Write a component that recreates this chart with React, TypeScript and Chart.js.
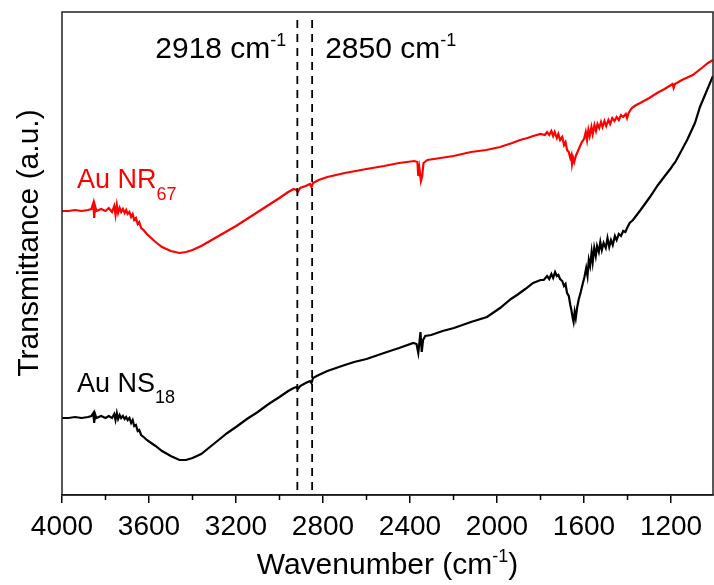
import React, { useEffect, useRef } from 'react';
import { Chart, registerables } from 'chart.js';

Chart.register(...registerables);

const FONT = '"Liberation Sans", Arial, Helvetica, sans-serif';

// Au NR67 (red) spectrum
const nrWavenumbers = [
  4000, 3970, 3940, 3910, 3880, 3865, 3856, 3852, 3848, 3842, 3820, 3800, 3785, 3770, 3760, 3754, 3748, 3742, 3735, 3728,
  3720, 3712, 3705, 3698, 3690, 3682, 3675, 3668, 3660, 3652, 3645, 3636, 3625, 3610, 3590, 3570, 3540, 3500, 3460, 3430,
  3400, 3360, 3320, 3280, 3240, 3200, 3150, 3100, 3050, 3000, 2960, 2935, 2922, 2916, 2905, 2880, 2860, 2853, 2846, 2820,
  2780, 2700, 2650, 2600, 2520, 2450, 2380, 2366, 2362, 2357, 2350, 2344, 2338, 2320, 2260, 2200, 2120, 2050, 1986, 1930,
  1894, 1860, 1834, 1800, 1780, 1770, 1760, 1750, 1742, 1735, 1725, 1718, 1710, 1700, 1692, 1685, 1678, 1670, 1663, 1658,
  1655, 1650, 1645, 1638, 1632, 1620, 1610, 1600, 1592, 1586, 1580, 1574, 1566, 1560, 1552, 1545, 1538, 1530, 1522, 1515,
  1506, 1498, 1488, 1480, 1470, 1460, 1450, 1440, 1430, 1420, 1408, 1402, 1395, 1380, 1360, 1342, 1300, 1264, 1230, 1200,
  1193, 1188, 1182, 1150, 1100, 1053, 1030, 1007,
];
const nrTransmittance = [
  284, 284, 285, 284, 285, 286, 292, 277, 289, 284, 286, 284, 287, 283, 289, 280, 290, 282, 287, 283,
  286, 282, 285, 281, 283, 278, 281, 275, 277, 271, 273, 267, 265, 261, 257, 253, 248, 244, 242, 243,
  245, 249, 254, 259, 264, 269, 276, 283, 290, 297, 303, 306, 305, 303, 307, 309, 311, 308, 312, 315,
  318, 322, 324, 326, 329, 332, 334, 333, 319, 327, 314, 319, 332, 335, 337, 339, 343, 345, 348, 352,
  355, 357, 359, 361, 360, 363, 360, 364, 359, 363, 357, 361, 355, 358, 350, 353, 345, 343, 337, 340,
  331, 337, 333, 339, 342, 348, 353, 356, 363, 355, 365, 359, 368, 361, 370, 364, 371, 367, 373, 368,
  374, 369, 375, 371, 377, 374, 378, 375, 380, 378, 381, 377, 382, 387, 390, 392, 397, 402, 406, 410,
  411, 407, 411, 415, 420, 428, 432, 435,
];

// Au NS18 (black) spectrum
const nsWavenumbers = [
  4000, 3970, 3940, 3910, 3880, 3865, 3856, 3852, 3848, 3842, 3820, 3800, 3785, 3770, 3760, 3754, 3748, 3742, 3735, 3728,
  3720, 3712, 3705, 3698, 3690, 3682, 3675, 3668, 3660, 3652, 3645, 3636, 3625, 3610, 3590, 3570, 3540, 3500, 3460, 3430,
  3400, 3360, 3320, 3280, 3240, 3200, 3150, 3100, 3050, 3000, 2960, 2935, 2922, 2916, 2905, 2880, 2860, 2853, 2846, 2820,
  2780, 2700, 2657, 2600, 2506, 2450, 2385, 2370, 2362, 2358, 2352, 2346, 2340, 2330, 2303, 2250, 2198, 2120, 2046, 1986,
  1936, 1908, 1870, 1834, 1800, 1785, 1770, 1760, 1750, 1742, 1733, 1725, 1718, 1710, 1700, 1692, 1685, 1678, 1670, 1663,
  1658, 1652, 1648, 1643, 1638, 1632, 1625, 1615, 1605, 1598, 1590, 1584, 1578, 1572, 1565, 1560, 1553, 1546, 1540, 1532,
  1525, 1518, 1510, 1500, 1492, 1484, 1476, 1468, 1458, 1450, 1440, 1430, 1420, 1410, 1402, 1390, 1375, 1340, 1297, 1260,
  1218, 1200, 1191, 1180, 1126, 1090, 1067, 1040, 1011, 1007,
];
const nsTransmittance = [
  77, 77, 78, 77, 78, 79, 82, 72, 81, 77, 79, 77, 79, 77, 81, 75, 82, 76, 80, 77,
  79, 76, 78, 75, 77, 72, 75, 69, 70, 64, 65, 60, 58, 55, 52, 49, 44, 39, 35, 35,
  37, 41, 48, 55, 62, 68, 76, 83, 91, 98, 104, 107, 108, 106, 109, 112, 114, 112, 117, 120,
  124, 130, 133, 136, 143, 147, 152, 151, 142, 150, 163, 143, 155, 159, 160, 164, 167, 173, 178, 187,
  196, 200, 206, 212, 215, 215, 219, 216, 221, 217, 223, 219, 220, 216, 214, 209, 211, 202, 199, 190,
  185, 177, 173, 183, 177, 187, 195, 203, 212, 218, 227, 219, 235, 229, 243, 233, 247, 239, 249, 243,
  253, 245, 252, 247, 257, 248, 255, 250, 259, 255, 261, 259, 264, 263, 267, 272, 275, 285, 298, 310,
  322, 327, 330, 333, 355, 372, 388, 402, 417, 419,
];

const markerWavenumbers = [2918, 2850];
const minorTickValues = [3800, 3400, 3000, 2600, 2200, 1800, 1400];
const xMin = 1007;
const xMax = 4000;
const xStep = 400;
const yMin = 0;
const yMax = 483;

type Seg = { t: string; size: number; dy: number };

function drawRich(ctx: CanvasRenderingContext2D, segs: Seg[], x: number, y: number, align: 'left' | 'right' | 'center', color: string) {
  ctx.save();
  ctx.fillStyle = color;
  ctx.textBaseline = 'alphabetic';
  ctx.textAlign = 'left';
  const widths = segs.map((s) => {
    ctx.font = `${s.size}px ${FONT}`;
    return ctx.measureText(s.t).width;
  });
  const total = widths.reduce((a, b) => a + b, 0);
  let cx = align === 'left' ? x : align === 'right' ? x - total : x - total / 2;
  segs.forEach((s, i) => {
    ctx.font = `${s.size}px ${FONT}`;
    ctx.fillText(s.t, cx, y + s.dy);
    cx += widths[i];
  });
  ctx.restore();
}

export default function App() {
  const ref = useRef<HTMLCanvasElement>(null);

  useEffect(() => {
    const canvas = ref.current;
    if (!canvas) return;

    const overlay = {
      id: 'overlay',
      afterDatasetsDraw(chart: any) {
        const { ctx, chartArea: a, scales } = chart;
        const x = scales.x;
        ctx.save();
        // dashed marker lines
        ctx.strokeStyle = '#000';
        ctx.lineWidth = 1.8;
        ctx.setLineDash([8, 6]);
        for (const wn of markerWavenumbers) {
          const px = x.getPixelForValue(wn);
          ctx.beginPath();
          ctx.moveTo(px, a.top + 8);
          ctx.lineTo(px, a.bottom);
          ctx.stroke();
        }
        ctx.setLineDash([]);
        // frame
        ctx.lineWidth = 1.5;
        ctx.strokeStyle = '#222';
        ctx.strokeRect(a.left, a.top, a.right - a.left, a.bottom - a.top);
        // minor ticks
        ctx.strokeStyle = '#000';
        for (const wn of minorTickValues) {
          const px = x.getPixelForValue(wn);
          ctx.beginPath();
          ctx.moveTo(px, a.bottom);
          ctx.lineTo(px, a.bottom + 5);
          ctx.stroke();
        }
        ctx.restore();
      },
      afterDraw(chart: any) {
        const { ctx, chartArea: a, scales } = chart;
        const x = scales.x;
        // marker annotations
        drawRich(ctx, [{ t: '2918 cm', size: 30, dy: 0 }, { t: '-1', size: 18, dy: -12 }], x.getPixelForValue(markerWavenumbers[0]) - 11, 58, 'right', '#000');
        drawRich(ctx, [{ t: '2850 cm', size: 30, dy: 0 }, { t: '-1', size: 18, dy: -12 }], x.getPixelForValue(markerWavenumbers[1]) + 13, 58, 'left', '#000');
        // series labels
        drawRich(ctx, [{ t: 'Au NR', size: 27, dy: 0 }, { t: '67', size: 18, dy: 12 }], a.left + 15, 188, 'left', '#ff0000');
        drawRich(ctx, [{ t: 'Au NS', size: 27, dy: 0 }, { t: '18', size: 18, dy: 11 }], a.left + 15, 392, 'left', '#000');
        // x axis title
        drawRich(ctx, [{ t: 'Wavenumber (cm', size: 30, dy: 0 }, { t: '-1', size: 18, dy: -12 }, { t: ')', size: 30, dy: 0 }], (a.left + a.right) / 2, 574, 'center', '#000');
        // y axis title
        ctx.save();
        ctx.translate(38, 243);
        ctx.rotate(-Math.PI / 2);
        ctx.font = `30px ${FONT}`;
        ctx.fillStyle = '#000';
        ctx.textAlign = 'center';
        ctx.textBaseline = 'alphabetic';
        ctx.fillText('Transmittance (a.u.)', 0, 0);
        ctx.restore();
      },
    };

    const chart = new Chart(canvas, {
      type: 'line',
      data: {
        datasets: [
          {
            label: 'Au NR67',
            data: nrWavenumbers.map((w, i) => ({ x: w, y: nrTransmittance[i] })),
            borderColor: '#ff0000',
            borderWidth: 2.2,
            pointRadius: 0,
            tension: 0,
            fill: false,
          },
          {
            label: 'Au NS18',
            data: nsWavenumbers.map((w, i) => ({ x: w, y: nsTransmittance[i] })),
            borderColor: '#000000',
            borderWidth: 2.2,
            pointRadius: 0,
            tension: 0,
            fill: false,
          },
        ],
      },
      options: {
        animation: false,
        responsive: false,
        maintainAspectRatio: false,
        layout: { padding: { left: 62, top: 12, right: 1, bottom: 0 } },
        plugins: { legend: { display: false }, tooltip: { enabled: false } },
        scales: {
          x: {
            type: 'linear',
            reverse: true,
            min: xMin,
            max: xMax,
            afterFit: (s: any) => {
              s.height = 90;
            },
            border: { display: true, color: '#000', width: 1.5 },
            grid: { display: true, drawOnChartArea: false, drawTicks: true, tickLength: 8, color: '#000', lineWidth: 1.5 },
            ticks: {
              stepSize: xStep,
              includeBounds: false,
              autoSkip: false,
              maxRotation: 0,
              color: '#000',
              padding: 7,
              font: { family: FONT, size: 28 },
              callback: (v: any) => String(v),
            },
          },
          y: { display: false, min: yMin, max: yMax },
        },
      },
      plugins: [overlay],
    } as any);

    return () => chart.destroy();
  }, []);

  return (
    <div style={{ position: 'fixed', left: 0, top: 0, width: 714, height: 585, background: '#fff' }}>
      <canvas ref={ref} width={714} height={585} style={{ display: 'block' }} />
    </div>
  );
}
